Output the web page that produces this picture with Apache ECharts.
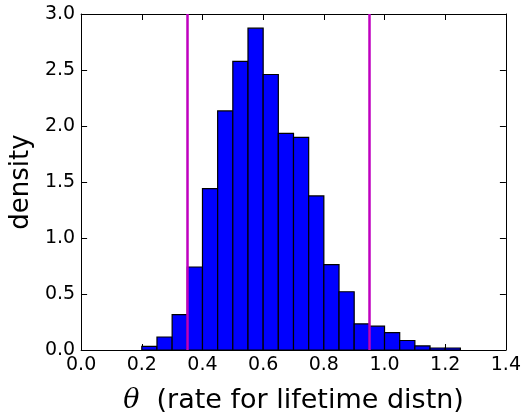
<!DOCTYPE html>
<html>
<head>
<meta charset="utf-8">
<script src="https://cdn.jsdelivr.net/npm/echarts@6/dist/echarts.min.js"></script>
<style>html,body{margin:0;padding:0;background:#fff}#c{width:524px;height:419px}</style>
</head>
<body>
<div id="c"></div>
<script>
// Histogram bins (left edges, width 0.05) and densities
var binStart = 0.20;
var binWidth = 0.05;
var densities = [0.032, 0.116, 0.316, 0.741, 1.441, 2.135, 2.577, 2.873, 2.460, 1.934, 1.899, 1.376, 0.762, 0.520, 0.233, 0.213, 0.156, 0.085, 0.036, 0.018, 0.018];
// Interval lines
var vlines = [0.352, 0.951];
var xTicks = [0.0, 0.2, 0.4, 0.6, 0.8, 1.0, 1.2, 1.4];
var yTicks = [0.0, 0.5, 1.0, 1.5, 2.0, 2.5, 3.0];

var binData = densities.map(function (d, i) {
  var lo = +(binStart + i * binWidth).toFixed(4);
  return [lo, +(lo + binWidth).toFixed(4), d];
});

var font = 'DejaVu Sans';
var chart = echarts.init(document.getElementById('c'), null, {renderer: 'canvas'});
function axisCommon() {
  return {
    axisLine: {show: true, onZero: false, lineStyle: {color: '#000', width: 1}},
    axisTick: {show: true, inside: true, length: 6, lineStyle: {color: '#000', width: 1}},
    splitLine: {show: false}
  };
}
chart.setOption({
  animation: false,
  backgroundColor: '#fff',
  grid: {left: 78, right: 18, top: 14, bottom: 66, containLabel: false},
  xAxis: [
    Object.assign({
      type: 'value', min: 0, max: 1.4, interval: 0.2, position: 'bottom',
      axisLabel: {color: '#000', fontFamily: font, fontSize: 19, margin: 6,
        formatter: function (v) { return v.toFixed(1); }},
      name: '{t|θ}  (rate for lifetime distn)',
      nameLocation: 'middle', nameGap: 37,
      nameTextStyle: {color: '#000', fontFamily: font, fontSize: 27,
        rich: {t: {fontFamily: 'DejaVu Serif', fontStyle: 'italic', fontSize: 27, color: '#000'}}}
    }, axisCommon()),
    Object.assign({
      type: 'value', min: 0, max: 1.4, interval: 0.2, position: 'top',
      axisLabel: {show: false}
    }, axisCommon())
  ],
  yAxis: [
    Object.assign({
      type: 'value', min: 0, max: 3, interval: 0.5, position: 'left',
      axisLabel: {color: '#000', fontFamily: font, fontSize: 19, margin: 6,
        formatter: function (v) { return v.toFixed(1); }},
      name: 'density', nameLocation: 'middle', nameGap: 45, nameRotate: 90,
      nameTextStyle: {color: '#000', fontFamily: font, fontSize: 26}
    }, axisCommon()),
    Object.assign({
      type: 'value', min: 0, max: 3, interval: 0.5, position: 'right',
      axisLabel: {show: false}
    }, axisCommon())
  ],
  series: [
    {
      type: 'custom',
      xAxisIndex: 0, yAxisIndex: 0,
      data: binData,
      renderItem: function (params, api) {
        var p0 = api.coord([api.value(0), api.value(2)]);
        var p1 = api.coord([api.value(1), 0]);
        return {
          type: 'rect',
          shape: {x: p0[0], y: p0[1], width: p1[0] - p0[0], height: p1[1] - p0[1]},
          style: {fill: '#0000ff', stroke: '#000', lineWidth: 1.2}
        };
      },
      encode: {x: [0, 1], y: 2},
      z: 2
    },
    {
      type: 'line',
      xAxisIndex: 0, yAxisIndex: 0,
      data: [],
      markLine: {
        silent: true, symbol: ['none', 'none'], label: {show: false},
        lineStyle: {color: '#bf00bf', width: 2.5, type: 'solid'},
        data: vlines.map(function (v) { return {xAxis: v}; })
      },
      z: 3
    }
  ]
});
</script>
</body>
</html>
